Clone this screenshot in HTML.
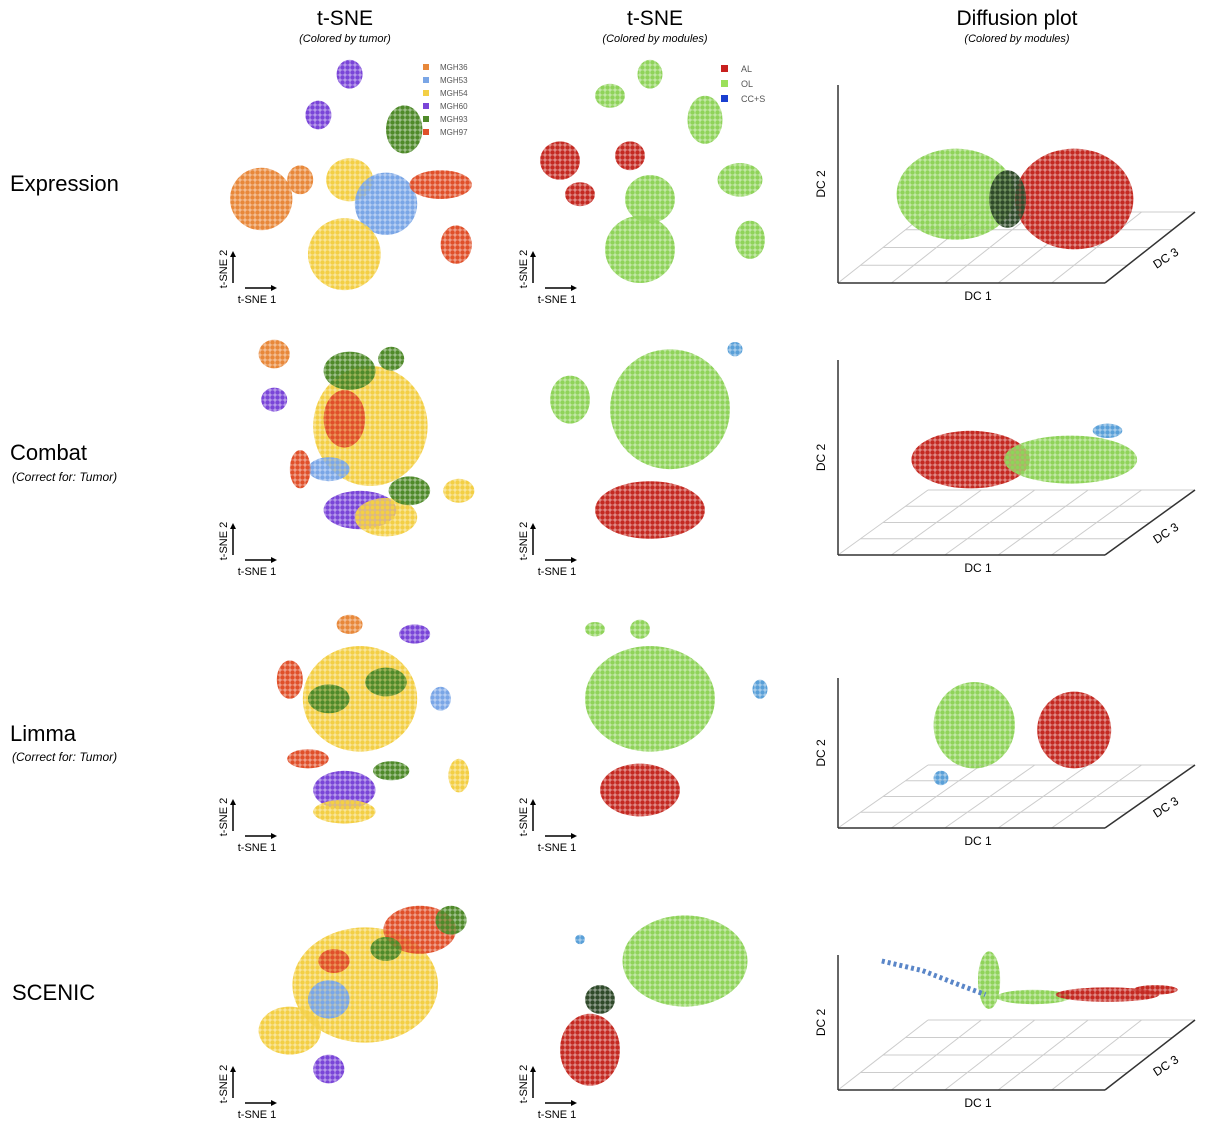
<!DOCTYPE html>
<html><head><meta charset="utf-8">
<style>
html,body{margin:0;padding:0;background:#fff;}
svg{display:block;font-family:"Liberation Sans",sans-serif;}
</style></head>
<body>
<svg id="fig" width="1206" height="1125" viewBox="0 0 1206 1125">
<defs id="defs"></defs>
<g>
<text x="345" y="25" font-size="21" text-anchor="middle">t-SNE</text>
<text x="345" y="42" font-size="11" font-style="italic" text-anchor="middle">(Colored by tumor)</text>
<text x="655" y="25" font-size="21" text-anchor="middle">t-SNE</text>
<text x="655" y="42" font-size="11" font-style="italic" text-anchor="middle">(Colored by modules)</text>
<text x="1017" y="25" font-size="21" text-anchor="middle">Diffusion plot</text>
<text x="1017" y="42" font-size="11" font-style="italic" text-anchor="middle">(Colored by modules)</text>
</g>
<g>
<text x="10" y="191" font-size="22">Expression</text>
<text x="10" y="460" font-size="22">Combat</text>
<text x="12" y="481" font-size="12" font-style="italic">(Correct for: Tumor)</text>
<text x="10" y="741" font-size="22">Limma</text>
<text x="12" y="761" font-size="12" font-style="italic">(Correct for: Tumor)</text>
<text x="12" y="1000" font-size="22">SCENIC</text>
</g>
<g id="plots"></g>
<g>
<rect x="423" y="64" width="6" height="6" fill="#e8883a"/><text x="440" y="70" font-size="8" fill="#555">MGH36</text>
<rect x="423" y="77" width="6" height="6" fill="#7aa6e6"/><text x="440" y="83" font-size="8" fill="#555">MGH53</text>
<rect x="423" y="90" width="6" height="6" fill="#f3cf45"/><text x="440" y="96" font-size="8" fill="#555">MGH54</text>
<rect x="423" y="103" width="6" height="6" fill="#7a45d8"/><text x="440" y="109" font-size="8" fill="#555">MGH60</text>
<rect x="423" y="116" width="6" height="6" fill="#4f8a2a"/><text x="440" y="122" font-size="8" fill="#555">MGH93</text>
<rect x="423" y="129" width="6" height="6" fill="#e0502a"/><text x="440" y="135" font-size="8" fill="#555">MGH97</text>
</g>
<g>
<rect x="721" y="65" width="7" height="7" fill="#c8201e"/><text x="741" y="72" font-size="9" fill="#555">AL</text>
<rect x="721" y="80" width="7" height="7" fill="#9be05a"/><text x="741" y="87" font-size="9" fill="#555">OL</text>
<rect x="721" y="95" width="7" height="7" fill="#1a3fd0"/><text x="741" y="102" font-size="9" fill="#555">CC+S</text>
</g>
</svg>
<script>
// Colors
const colors = {o:"#e8883a",b:"#7aa6e6",y:"#f3cf45",p:"#7a45d8",g:"#4f8a2a",r:"#e0502a",AL:"#c42a22",OL:"#8fd35a",CS:"#5aa0d8",dk:"#2f4a2a"};
// Panel boxes (layout)
const colX = [230, 530, 830];
const colW = [260, 250, 370];
const rowY = [55, 330, 610, 865];
const rowH = 240;
// Cluster data: [cx, cy, rx, ry, colorKey] in 0-100 panel units
const tumorRow1 = [[12,60,12,13,"o"],[27,52,5,6,"o"],[46,52,9,9,"y"],[60,62,12,13,"b"],[44,83,14,15,"y"],[46,8,5,6,"p"],[34,25,5,6,"p"],[67,31,7,10,"g"],[81,54,12,6,"r"],[87,79,6,8,"r"]];
const tumorRow2 = [[54,40,22,25,"y"],[46,17,10,8,"g"],[44,37,8,12,"r"],[17,10,6,6,"o"],[17,29,5,5,"p"],[50,75,14,8,"p"],[60,78,12,8,"y"],[69,67,8,6,"g"],[88,67,6,5,"y"],[38,58,8,5,"b"],[27,58,4,8,"r"],[62,12,5,5,"g"]];
const tumorRow3 = [[50,37,22,22,"y"],[46,6,5,4,"o"],[71,10,6,4,"p"],[38,37,8,6,"g"],[60,30,8,6,"g"],[23,29,5,8,"r"],[44,75,12,8,"p"],[44,84,12,5,"y"],[88,69,4,7,"y"],[81,37,4,5,"b"],[62,67,7,4,"g"],[30,62,8,4,"r"]];
const tumorRow4 = [[52,50,28,24,"y"],[73,27,14,10,"r"],[23,69,12,10,"y"],[38,85,6,6,"p"],[38,56,8,8,"b"],[85,23,6,6,"g"],[60,35,6,5,"g"],[40,40,6,5,"r"]];
const modRow1 = [[48,8,5,6,"OL"],[32,17,6,5,"OL"],[12,44,8,8,"AL"],[40,42,6,6,"AL"],[70,27,7,10,"OL"],[44,81,14,14,"OL"],[48,60,10,10,"OL"],[84,52,9,7,"OL"],[88,77,6,8,"OL"],[20,58,6,5,"AL"]];
const modRow2 = [[56,33,24,25,"OL"],[16,29,8,10,"OL"],[48,75,22,12,"AL"],[82,8,3,3,"CS"]];
const modRow3 = [[48,37,26,22,"OL"],[44,75,16,11,"AL"],[44,8,4,4,"OL"],[92,33,3,4,"CS"],[26,8,4,3,"OL"]];
const modRow4 = [[62,40,25,19,"OL"],[24,77,12,15,"AL"],[28,56,6,6,"dk"],[20,31,2,2,"CS"]];
const diffRow1 = [[34,58,16,19,"OL"],[66,60,16,21,"AL"],[48,60,5,12,"dk"]];
const diffRow2 = [[38,54,16,12,"AL"],[65,54,18,10,"OL"],[75,42,4,3,"CS"]];
const diffRow3 = [[39,48,11,18,"OL"],[66,50,10,16,"AL"],[30,70,2,3,"CS"]];
const diffRow4 = [[43,48,3,12,"OL"],[55,55,10,3,"OL"],[75,54,14,3,"AL"],[88,52,6,2,"AL"]];
const diffTrail4 = [[14,40],[25,44],[35,50],[42,54]];
// Diffusion floors: [vertTop, floorY, backY]
const floors = [[85,283,212],[360,555,490],[678,828,765],[955,1090,1020]];

const NS="http://www.w3.org/2000/svg";
const defs=document.getElementById('defs');
const plots=document.getElementById('plots');
function el(tag,attrs,parent){const e=document.createElementNS(NS,tag);for(const k in attrs)e.setAttribute(k,attrs[k]);(parent||plots).appendChild(e);return e;}
for(const k in colors){
  const p=el('pattern',{id:'pt-'+k,width:5,height:5,patternUnits:'userSpaceOnUse'},defs);
  el('rect',{width:5,height:5,fill:colors[k],opacity:0.55},p);
  el('circle',{cx:2.5,cy:2.5,r:2.2,fill:colors[k]},p);
}
function sx(c,v){return colX[c]+v*colW[c]/100;}
function sy(r,v){return rowY[r]+v*rowH/100;}
function drawClusters(c,r,data,name){
  const g=el('g',{});
  
  
  data.forEach(d=>{
    const e=el('ellipse',{cx:sx(c,d[0]),cy:sy(r,d[1]),rx:d[2]*colW[c]/100,ry:d[3]*rowH/100,fill:'url(#pt-'+d[4]+')'},g);
    
    
  });
}
const tumorData=[tumorRow1,tumorRow2,tumorRow3,tumorRow4];
const modData=[modRow1,modRow2,modRow3,modRow4];
const diffData=[diffRow1,diffRow2,diffRow3,diffRow4];
const bottoms=[303,575,851,1118];
for(let r=0;r<4;r++){
  // diffusion frame
  const f=floors[r];
  const A=[838,f[1]],B=[1105,f[1]],C=[1195,f[2]],D=[928,f[2]];
  const fg=el('g',{});
  
  
  for(let i=0;i<=5;i++){const t=i/5;el('line',{x1:A[0]+(B[0]-A[0])*t,y1:A[1],x2:D[0]+(C[0]-D[0])*t,y2:D[1],stroke:'#ccc','stroke-width':1},fg);}
  for(let i=0;i<=4;i++){const t=i/4;el('line',{x1:A[0]+(D[0]-A[0])*t,y1:A[1]+(D[1]-A[1])*t,x2:B[0]+(C[0]-B[0])*t,y2:B[1]+(C[1]-B[1])*t,stroke:'#ccc','stroke-width':1},fg);}
  el('line',{x1:838,y1:f[0],x2:838,y2:f[1],stroke:'#333','stroke-width':1.5},fg);
  el('line',{x1:A[0],y1:A[1],x2:B[0],y2:B[1],stroke:'#333','stroke-width':1.5},fg);
  el('line',{x1:B[0],y1:B[1],x2:C[0],y2:C[1],stroke:'#333','stroke-width':1.5},fg);
  const t1=el('text',{x:825,y:(f[0]+f[1])/2,'font-size':12,'text-anchor':'middle',transform:`rotate(-90 825 ${(f[0]+f[1])/2})`},fg);t1.textContent='DC 2';
  const t2=el('text',{x:978,y:f[1]+17,'font-size':12,'text-anchor':'middle'},fg);t2.textContent='DC 1';
  const mx=(B[0]+C[0])/2+18,my=(B[1]+C[1])/2+14;
  const t3=el('text',{x:mx,y:my,'font-size':12,'text-anchor':'middle',transform:`rotate(-33 ${mx} ${my})`},fg);t3.textContent='DC 3';
  drawClusters(0,r,tumorData[r],'tsne-tumor-row'+(r+1));
  drawClusters(1,r,modData[r],'tsne-modules-row'+(r+1));
  drawClusters(2,r,diffData[r],'diffusion-row'+(r+1));
  // t-SNE arrows
  [0,1].forEach(c=>{
    const ax=colX[c]+3, by=bottoms[r];
    const g=el('g',{});
    
    
    el('line',{x1:ax,y1:by-20,x2:ax,y2:by-48,stroke:'#000','stroke-width':1.5},g);
    el('polygon',{points:`${ax-3},${by-46} ${ax+3},${by-46} ${ax},${by-52}`,fill:'#000'},g);
    el('line',{x1:ax+12,y1:by-15,x2:ax+40,y2:by-15,stroke:'#000','stroke-width':1.5},g);
    el('polygon',{points:`${ax+38},${by-18} ${ax+38},${by-12} ${ax+44},${by-15}`,fill:'#000'},g);
    const a=el('text',{x:ax-6,y:by-34,'font-size':11,'text-anchor':'middle',transform:`rotate(-90 ${ax-6} ${by-34})`},g);a.textContent='t-SNE 2';
    const b=el('text',{x:ax+24,y:by,'font-size':11,'text-anchor':'middle'},g);b.textContent='t-SNE 1';
  });
}
// SCENIC diffusion trail
const pts=diffTrail4.map(p=>sx(2,p[0])+','+sy(3,p[1])).join(' ');
const tr=el('polyline',{points:pts,fill:'none',stroke:'#5a86c8','stroke-width':5,'stroke-dasharray':'3 3'});


</script>
</body></html>
